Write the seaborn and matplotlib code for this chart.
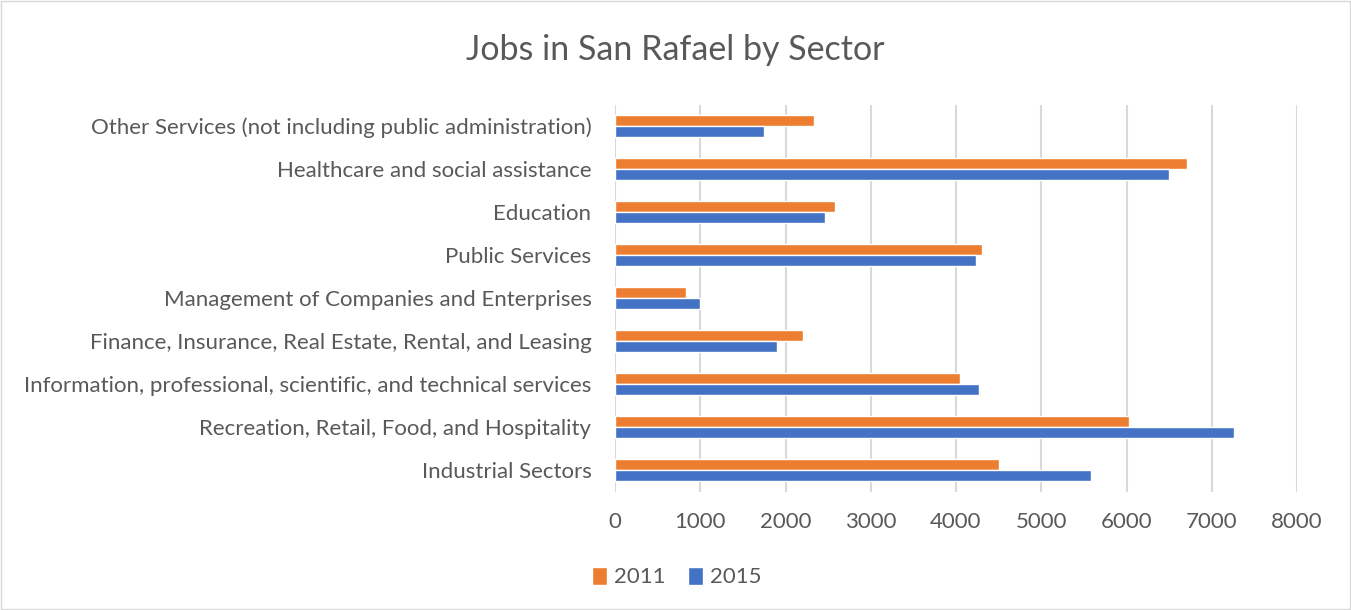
import pandas as pd
import seaborn as sns
import matplotlib.pyplot as plt
from matplotlib.patches import Patch

sns.set_style('white')
plt.rcParams['font.family'] = ['Lato', 'DejaVu Sans']

sectors = [
    "Other Services (not including public administration)",
    "Healthcare and social assistance",
    "Education",
    "Public Services",
    "Management of Companies and Enterprises",
    "Finance, Insurance, Real Estate, Rental, and Leasing",
    "Information, professional, scientific, and technical services",
    "Recreation, Retail, Food, and Hospitality",
    "Industrial Sectors",
]
jobs_2011 = [2333, 6706, 2576, 4302, 834, 2208, 4044, 6033, 4506]
jobs_2015 = [1753, 6502, 2466, 4240, 998, 1906, 4267, 7258, 5582]
years = ["2011", "2015"]
xticks = [0, 1000, 2000, 3000, 4000, 5000, 6000, 7000, 8000]

df = pd.concat([
    pd.DataFrame({"sector": sectors, "jobs": jobs_2011, "year": "2011"}),
    pd.DataFrame({"sector": sectors, "jobs": jobs_2015, "year": "2015"}),
])

COLORS = {"2011": "#ED7D31", "2015": "#4472C4"}
TEXT = "#595959"
GRID = "#D9D9D9"

fig = plt.figure(figsize=(13.51, 6.10), dpi=100)
ax = fig.add_axes([615 / 1351, 1 - 491.5 / 610, (1297 - 615) / 1351, (491.5 - 104.5) / 610])

sns.barplot(data=df, x="jobs", y="sector", hue="year", hue_order=years,
            palette=COLORS, width=0.53, saturation=1, orient="h",
            legend=False, ax=ax)

ax.set_xlim(0, 8000)
ax.set_xticks(xticks)
ax.set_xticklabels([str(t) for t in xticks])
ax.xaxis.grid(True, color=GRID, linewidth=1.5)
ax.set_axisbelow(True)
for side in ["top", "right", "bottom", "left"]:
    ax.spines[side].set_visible(False)
ax.tick_params(axis="both", length=0, labelsize=16, colors=TEXT)
ax.tick_params(axis="x", pad=15)
ax.tick_params(axis="y", pad=17)
ax.set_xlabel("")
ax.set_ylabel("")

fig.text(0.5, 1 - 50 / 610, "Jobs in San Rafael by Sector", ha="center", va="center",
         fontsize=24.5, color=TEXT)

handles = [Patch(facecolor=COLORS[y], label=y) for y in years]
fig.legend(handles=handles, loc="center", bbox_to_anchor=(677 / 1351, 1 - 577 / 610),
           ncol=2, frameon=False, fontsize=16, labelcolor=TEXT,
           handlelength=0.65, handleheight=0.9, handletextpad=0.35, columnspacing=1.0)

fig.patches.append(plt.Rectangle((0.001, 0.002), 0.998, 0.996, transform=fig.transFigure,
                                 fill=False, edgecolor=GRID, linewidth=1))

plt.savefig("out.png", dpi=100)
